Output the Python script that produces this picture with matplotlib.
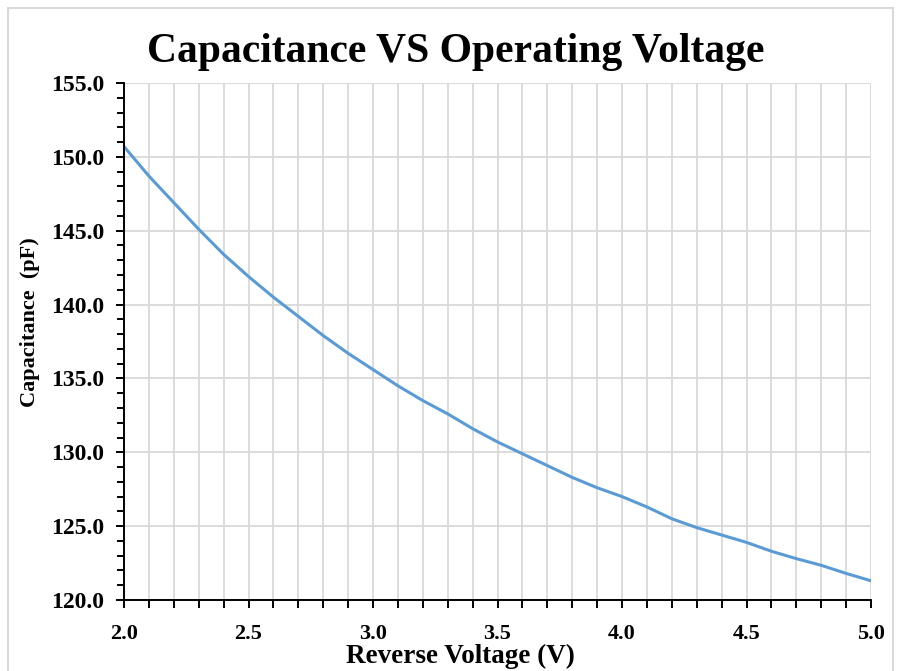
import matplotlib
matplotlib.use('Agg')
import matplotlib.pyplot as plt
from matplotlib.ticker import MultipleLocator, FormatStrFormatter
from matplotlib.patches import Rectangle

voltage = [2.0, 2.1, 2.2, 2.3, 2.4, 2.5, 2.6, 2.7, 2.8, 2.9,
           3.0, 3.1, 3.2, 3.3, 3.4, 3.5, 3.6, 3.7, 3.8, 3.9,
           4.0, 4.1, 4.2, 4.3, 4.4, 4.5, 4.6, 4.7, 4.8, 4.9, 5.0]
capacitance = [150.7, 148.7, 146.9, 145.1, 143.4, 141.9, 140.5, 139.2, 137.9, 136.7,
               135.6, 134.5, 133.5, 132.6, 131.6, 130.7, 129.9, 129.1, 128.3, 127.6,
               127.0, 126.3, 125.5, 124.9, 124.4, 123.9, 123.3, 122.8, 122.35, 121.8, 121.3]

title = 'Capacitance VS Operating Voltage'
xlabel = 'Reverse Voltage (V)'
ylabel = 'Capacitance  (pF)'

plt.rcParams['font.family'] = ['Liberation Serif', 'DejaVu Serif']
plt.rcParams['font.weight'] = 'bold'

fig = plt.figure(figsize=(8.98, 6.71), dpi=100)
ax = fig.add_axes([0.1381, 0.1058, 0.970 - 0.1381, 0.8763 - 0.1058])

# light frame around the chart area (bottom edge runs off the picture)
fig.patches.append(Rectangle((0.009, -0.02), 0.985, 1.008, transform=fig.transFigure,
                             fill=False, edgecolor='#D9D9D9', linewidth=1.5))

ax.plot(voltage, capacitance, color='#5B9BD5', linewidth=2.2, zorder=3)

ax.set_xlim(2.0, 5.0)
ax.set_ylim(120, 155)
ax.xaxis.set_major_locator(MultipleLocator(0.5))
ax.xaxis.set_minor_locator(MultipleLocator(0.1))
ax.yaxis.set_major_locator(MultipleLocator(5))
ax.yaxis.set_minor_locator(MultipleLocator(1))
ax.xaxis.set_major_formatter(FormatStrFormatter('%.1f'))
ax.yaxis.set_major_formatter(FormatStrFormatter('%.1f'))

ax.grid(True, which='major', axis='y', color='#D9D9D9', linewidth=1.3)
ax.grid(True, which='both', axis='x', color='#D9D9D9', linewidth=1.3)
ax.set_axisbelow(True)

for s in ['top', 'right']:
    ax.spines[s].set_visible(False)
for s in ['left', 'bottom']:
    ax.spines[s].set_linewidth(1.4)
    ax.spines[s].set_zorder(4)

ax.tick_params(which='both', direction='out', width=1.4, length=6)
ax.tick_params(axis='x', which='major', labelsize=16, pad=11)
ax.tick_params(axis='y', which='major', labelsize=17, pad=8)
ax.tick_params(axis='y', which='minor', length=5)

ax.set_xlabel(xlabel, fontsize=19.5, fontweight='bold')
ax.xaxis.label.set_va('baseline')
ax.xaxis.set_label_coords(0.451, -0.1219)
ax.set_ylabel(ylabel, fontsize=16, fontweight='bold')
ax.yaxis.label.set_va('center')
ax.yaxis.set_label_coords(-0.1258, 0.5377)

fig.text(0.508, 0.9076, title, ha='center', va='baseline', fontsize=30, fontweight='bold')

fig.savefig('out.png', dpi=100, facecolor='white')
